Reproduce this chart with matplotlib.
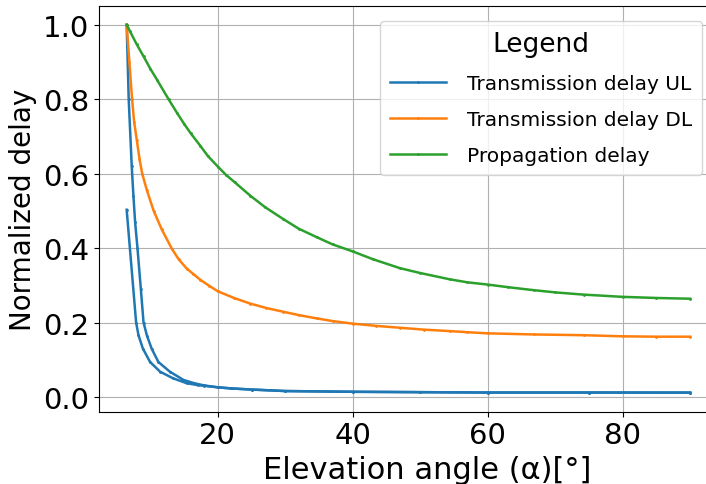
import numpy as np
import matplotlib
matplotlib.use("Agg")
from matplotlib import pyplot as plt

# elevation angle (deg) and normalized delays
ul_x_a = [6.5, 7.9, 8.25, 8.9, 9.97, 11.45, 13.4, 15.4, 17.0, 18.0, 20.0, 22.0, 25.0,
          30.0, 40.0, 50.0, 60.0, 75.0, 90.0]
ul_a = [0.503, 0.200, 0.166, 0.130, 0.094, 0.068, 0.050, 0.037, 0.032, 0.030, 0.026,
        0.023, 0.020, 0.016, 0.014, 0.013, 0.012, 0.012, 0.0118]

ul_x_b = [6.5, 6.8, 7.25, 7.5, 7.75, 8.1, 8.6, 9.0, 9.5, 10.2, 11.2, 12.9, 14.9, 16.5,
          18.0, 20.0, 22.0, 25.0, 30.0, 40.0, 50.0, 60.0, 75.0, 90.0]
ul_b = [1.0, 0.8, 0.62, 0.54, 0.47, 0.40, 0.29, 0.20, 0.165, 0.13, 0.094, 0.068, 0.046,
        0.037, 0.031, 0.026, 0.023, 0.020, 0.016, 0.014, 0.013, 0.012, 0.012, 0.0118]

dl_x = [6.5, 6.9, 7.3, 7.6, 8.0, 8.4, 8.8, 9.5, 10.5, 11.7, 13.2, 14.2, 15.4, 16.4,
        17.4, 18.7, 20.0, 22.4, 24.8, 27.2, 29.7, 32.0, 34.7, 37.0, 40.0, 43.5, 47.0,
        50.5, 54.4, 57.0, 60.0, 66.8, 74.2, 80.0, 85.0, 90.0]
dl = [1.0, 0.9, 0.8, 0.74, 0.69, 0.64, 0.60, 0.555, 0.50, 0.45, 0.398, 0.37, 0.345,
      0.33, 0.315, 0.299, 0.284, 0.266, 0.251, 0.239, 0.229, 0.220, 0.211, 0.204,
      0.197, 0.191, 0.186, 0.181, 0.177, 0.174, 0.171, 0.168, 0.166, 0.163, 0.162, 0.162]

prop_x = [6.5, 7.0, 8.0, 9.0, 10.0, 11.0, 12.7, 14.0, 15.0, 16.0, 17.4, 18.5, 20.0,
          21.2, 22.5, 24.8, 27.0, 29.7, 32.0, 34.7, 37.0, 40.0, 43.0, 47.0, 50.0, 54.4,
          57.0, 60.0, 63.0, 66.8, 70.0, 74.2, 80.0, 85.0, 90.0]
prop = [1.0, 0.982, 0.947, 0.915, 0.882, 0.852, 0.80, 0.762, 0.734, 0.708, 0.675,
        0.648, 0.619, 0.597, 0.577, 0.541, 0.51, 0.478, 0.452, 0.429, 0.41, 0.391,
        0.37, 0.346, 0.333, 0.316, 0.308, 0.302, 0.295, 0.287, 0.281, 0.275, 0.269,
        0.266, 0.264]

fig = plt.figure(figsize=(7.06, 4.85), dpi=100)
ax = fig.add_axes([99 / 706, 1 - 412.7 / 485, 656 / 706, 405.4 / 485])

style = dict(marker=".", markersize=2, linewidth=1.8)
ax.plot(ul_x_a, ul_a, color="tab:blue", label="Transmission delay UL", **style)
ax.plot(ul_x_b, ul_b, color="tab:blue", **style)
ax.plot(dl_x, dl, color="tab:orange", label="Transmission delay DL", **style)
ax.plot(prop_x, prop, color="tab:green", label="Propagation delay", **style)

ax.set_xlim(2.4, 99.6)
ax.set_ylim(-0.0395, 1.0495)
ax.grid(True)
ax.set_xticks([20, 40, 60, 80])
ax.tick_params(labelsize=21)
ax.set_xlabel("Elevation angle (α)[°]", fontsize=22)
ax.set_ylabel("Normalized delay", fontsize=20)

ax.legend(title="Legend", fontsize=14.5, title_fontsize=19, loc="upper right",
          bbox_to_anchor=(701.7 / 706, 1 - 21.7 / 485), bbox_transform=fig.transFigure,
          borderaxespad=0, borderpad=0.5, handlelength=2.8, handletextpad=1.0,
          labelspacing=0.85)

fig.savefig("out.png", dpi=100)
